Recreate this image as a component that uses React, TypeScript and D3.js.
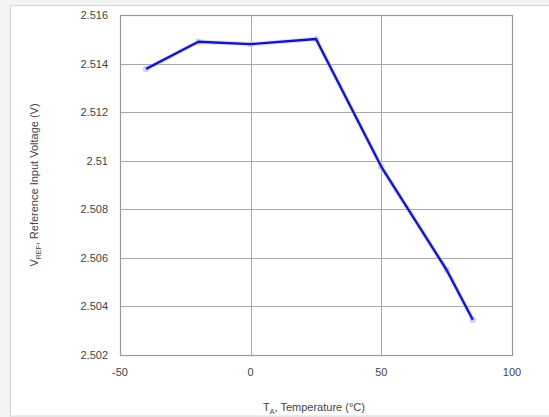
import React, { useEffect, useRef } from 'react';
import * as d3 from 'd3';

// temperature (°C) and reference voltage (V)
const temps = [-40, -20, 0, 25, 50, 75, 85];
const vref = [2.51378, 2.5149, 2.5148, 2.51501, 2.50975, 2.5055, 2.50345];
const xTicks = [-50, 0, 50, 100];
const yTicks = [2.502, 2.504, 2.506, 2.508, 2.51, 2.512, 2.514, 2.516];

const W = 549;
const H = 417;

const App: React.FC = () => {
  const svgRef = useRef<SVGSVGElement>(null);

  useEffect(() => {
    if (!svgRef.current) return;
    const svg = d3.select(svgRef.current);
    svg.selectAll('*').remove();

    const font = "'Liberation Sans', Arial, sans-serif";
    const left = 120, right = 512, top = 15, bottom = 355;

    // background and panel
    svg.append('rect').attr('width', W).attr('height', H).attr('fill', '#f3f3f3');
    svg.append('rect')
      .attr('x', 10.5).attr('y', 5.5)
      .attr('width', W - 10).attr('height', H - 5 - 1.5)
      .attr('fill', '#fff').attr('stroke', '#d8d8d8');

    const x = d3.scaleLinear().domain([-50, 100]).range([left, right]);
    const y = d3.scaleLinear().domain([2.502, 2.516]).range([bottom, top]);

    const g = svg.append('g');

    // grid
    g.selectAll('.hg').data(yTicks).enter().append('line')
      .attr('x1', left).attr('x2', right)
      .attr('y1', d => Math.round(y(d)) + 0.5).attr('y2', d => Math.round(y(d)) + 0.5)
      .attr('stroke', '#a8a8a8').attr('stroke-width', 1);
    g.selectAll('.vg').data(xTicks).enter().append('line')
      .attr('y1', top).attr('y2', bottom)
      .attr('x1', d => Math.round(x(d)) + 0.5).attr('x2', d => Math.round(x(d)) + 0.5)
      .attr('stroke', '#a8a8a8').attr('stroke-width', 1);

    g.append('rect')
      .attr('x', left + 0.5).attr('y', top + 0.5)
      .attr('width', right - left).attr('height', bottom - top)
      .attr('fill', 'none').attr('stroke', '#999').attr('stroke-width', 1.2);

    // tick labels
    g.selectAll('.yl').data(yTicks).enter().append('text')
      .attr('x', left - 12).attr('y', d => y(d) + 4)
      .attr('text-anchor', 'end')
      .attr('font-family', font).attr('font-size', 11).attr('fill', '#444')
      .text(d => d3.format('')(+d.toFixed(3)));
    g.selectAll('.xl').data(xTicks).enter().append('text')
      .attr('x', d => x(d)).attr('y', bottom + 21)
      .attr('text-anchor', 'middle')
      .attr('font-family', font).attr('font-size', 11).attr('fill', '#444')
      .text(d => String(d));

    // axis titles
    const xt = svg.append('text')
      .attr('x', 314).attr('y', 411)
      .attr('text-anchor', 'middle')
      .attr('font-family', font).attr('font-size', 11).attr('fill', '#444');
    xt.append('tspan').text('T');
    xt.append('tspan').attr('font-size', 7).attr('dy', 3).text('A');
    xt.append('tspan').attr('dy', -3).text(', Temperature (°C)');

    const yt = svg.append('text')
      .attr('transform', `translate(38,${185}) rotate(-90)`)
      .attr('text-anchor', 'middle')
      .attr('font-family', font).attr('font-size', 11).attr('fill', '#444');
    yt.append('tspan').text('V');
    yt.append('tspan').attr('font-size', 7).attr('dy', 3).text('REF');
    yt.append('tspan').attr('dy', -3).text(', Reference Input Voltage (V)');

    // series
    const pts = temps.map((t, i) => [t, vref[i]] as [number, number]);
    const line = d3.line<[number, number]>().x(d => x(d[0])).y(d => y(d[1]));
    g.append('path').datum(pts)
      .attr('d', line)
      .attr('fill', 'none').attr('stroke', '#b8c4f0').attr('stroke-width', 4.5)
      .attr('stroke-linejoin', 'round').attr('opacity', 0.5);
    g.selectAll('.pt').data(pts).enter().append('circle')
      .attr('cx', d => x(d[0])).attr('cy', d => y(d[1])).attr('r', 3.2)
      .attr('fill', '#c8d2f6');
    g.append('path').datum(pts)
      .attr('d', line)
      .attr('fill', 'none').attr('stroke', '#1515c0').attr('stroke-width', 2.4)
      .attr('stroke-linejoin', 'round');
  }, []);

  return (
    <div style={{ position: 'fixed', left: 0, top: 0 }}>
      <svg ref={svgRef} width={W} height={H} style={{ display: 'block' }} />
    </div>
  );
};

export default App;
